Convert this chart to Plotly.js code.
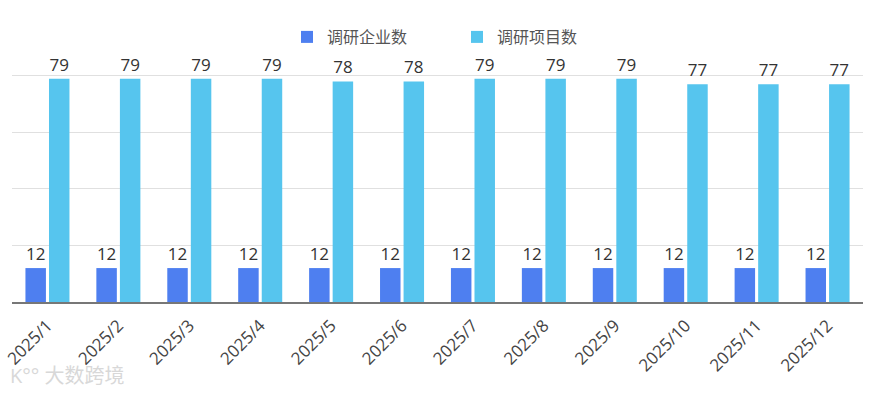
<!DOCTYPE html>
<html>
<head>
<meta charset="utf-8">
<script src="https://cdn.plot.ly/plotly-3.0.1.min.js"></script>
<style>html,body{margin:0;padding:0;background:#fff;}#chart{width:882px;height:393px;}</style>
</head>
<body>
<div id="chart"></div>
<script>
const months = ["2025/1","2025/2","2025/3","2025/4","2025/5","2025/6","2025/7","2025/8","2025/9","2025/10","2025/11","2025/12"];
const companies = [12,12,12,12,12,12,12,12,12,12,12,12];
const projects = [79,79,79,79,78,78,79,79,79,77,77,77];
const seriesNames = ["调研企业数","调研项目数"];

const font = '"Open Sans","Noto Sans CJK SC","Noto Sans",sans-serif';
const traces = [
  {type:'bar', name:seriesNames[0], x:months, y:companies, marker:{color:'#4e7ff0'},
   text:companies.map(String), textposition:'outside', cliponaxis:false,
   textfont:{size:17,color:'#333',family:font}, hoverinfo:'x+y'},
  {type:'bar', name:seriesNames[1], x:months, y:projects, marker:{color:'#56c5ee'},
   text:projects.map(String), textposition:'outside', cliponaxis:false,
   textfont:{size:17,color:'#333',family:font}, hoverinfo:'x+y'}
];
const layout = {
  width:882, height:393,
  margin:{l:12, r:19, t:73, b:91},
  paper_bgcolor:'#fff', plot_bgcolor:'#fff',
  barmode:'group', bargap:0.336, bargroupgap:0.13,
  font:{family:font, color:'#444'},
  showlegend:true,
  legend:{orientation:'h', xref:'container', yref:'container', x:287/882, xanchor:'left',
          y:1-37/393, yanchor:'middle', font:{size:16,color:'#555',family:font},
          entrywidth:125, itemsizing:'constant'},
  xaxis:{type:'category', tickangle:-45, tickfont:{size:17,color:'#444',family:font},
         ticklabelstandoff:5,
         showgrid:false, showline:true, linecolor:'#777', linewidth:2, ticks:'', zeroline:false},
  yaxis:{range:[0,81], tickvals:[20,40,60,80], showticklabels:false, showgrid:true, gridcolor:'#e0e0e0',
         gridwidth:1, zeroline:false, showline:false, ticks:''},
  annotations:[{xref:'paper', yref:'paper', x:-0.005, y:-0.32, xanchor:'left', yanchor:'middle',
    text:'K°° 大数跨境', showarrow:false, font:{size:20,color:'#d8d8d8',family:font}}]
};
Plotly.newPlot('chart', traces, layout, {displayModeBar:false, staticPlot:true});
</script>
</body>
</html>
